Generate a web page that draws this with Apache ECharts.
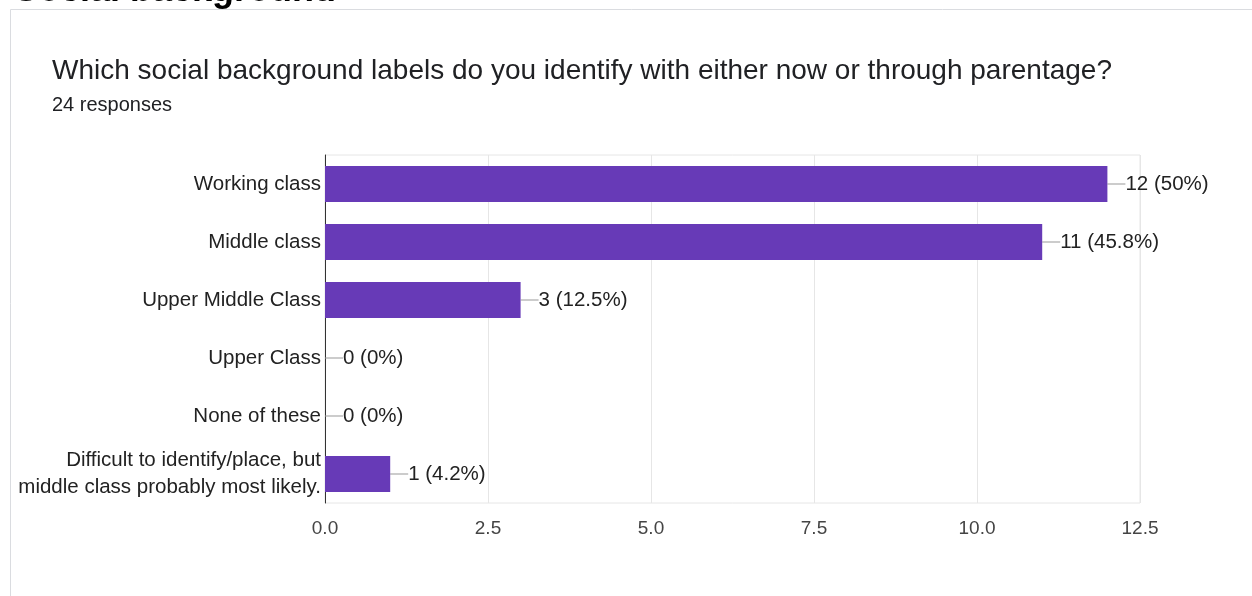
<!DOCTYPE html>
<html lang="en">
<head>
  <meta charset="UTF-8">
  <title>Social background</title>
  <script src="https://cdn.jsdelivr.net/npm/echarts@6/dist/echarts.min.js"></script>
  <style>
    html, body { margin: 0; padding: 0; background: #fff; }
  </style>
</head>
<body>
<div id="main" style="width:1252px;height:596px;"></div>
<script>
  // data
  var categories = [
    'Working class',
    'Middle class',
    'Upper Middle Class',
    'Upper Class',
    'None of these',
    'Difficult to identify/place, but\nmiddle class probably most likely.'
  ];
  var counts = [12, 11, 3, 0, 0, 1];
  var percents = ['50%', '45.8%', '12.5%', '0%', '0%', '4.2%'];
  var xTicks = [0, 2.5, 5, 7.5, 10, 12.5];

  var FONT = 'Liberation Sans, Arial, Helvetica, sans-serif';

  var myChart = echarts.init(document.getElementById('main'));

  var option = {
    backgroundColor: '#fff',
    animation: false,
    graphic: [
      // card border
      { type: 'rect', shape: { x: 10.5, y: 9.5, width: 1400, height: 800 },
        style: { fill: 'none', stroke: '#dadce0', lineWidth: 1 } },
      // section heading, cut off at the top
      { type: 'text', x: 14, y: -9,
        style: { text: 'Social background', font: 'bold 36px ' + FONT, fill: '#000', verticalAlign: 'middle' } },
      { type: 'text', x: 52, y: 71,
        style: { text: 'Which social background labels do you identify with either now or through parentage?',
          font: '28px ' + FONT, fill: '#202124', verticalAlign: 'middle' } },
      { type: 'text', x: 52, y: 105,
        style: { text: '24 responses', font: '20px ' + FONT, fill: '#202124', verticalAlign: 'middle' } }
    ],
    grid: {
      left: 325, right: 112, top: 155, bottom: 93,
      show: true, borderColor: '#e6e6e6', borderWidth: 1
    },
    xAxis: {
      type: 'value',
      min: 0, max: 12.5, interval: 2.5,
      axisLine: { show: false },
      axisTick: { show: false },
      splitLine: { lineStyle: { color: '#e6e6e6' } },
      axisLabel: {
        margin: 16, color: '#444', fontSize: 19, fontFamily: FONT,
        formatter: function (v) { return v.toFixed(1); }
      }
    },
    yAxis: {
      type: 'category',
      inverse: true,
      data: categories,
      axisLine: { show: true, lineStyle: { color: '#333', width: 1 } },
      axisTick: { show: false },
      axisLabel: { margin: 4, color: '#222', fontSize: 20.5, lineHeight: 27, fontFamily: FONT }
    },
    series: [{
      type: 'bar',
      data: counts,
      barWidth: 36,
      itemStyle: { color: '#673ab7' },
      label: {
        show: true,
        position: 'right',
        distance: 0,
        color: '#222',
        fontSize: 20.5,
        fontFamily: FONT,
        formatter: function (p) { return p.value + ' (' + percents[p.dataIndex] + ')'; }
      },
      labelLayout: { dx: 18 },
      labelLine: { show: true, lineStyle: { color: '#999', width: 1 } }
    }]
  };

  myChart.setOption(option);
</script>
</body>
</html>
